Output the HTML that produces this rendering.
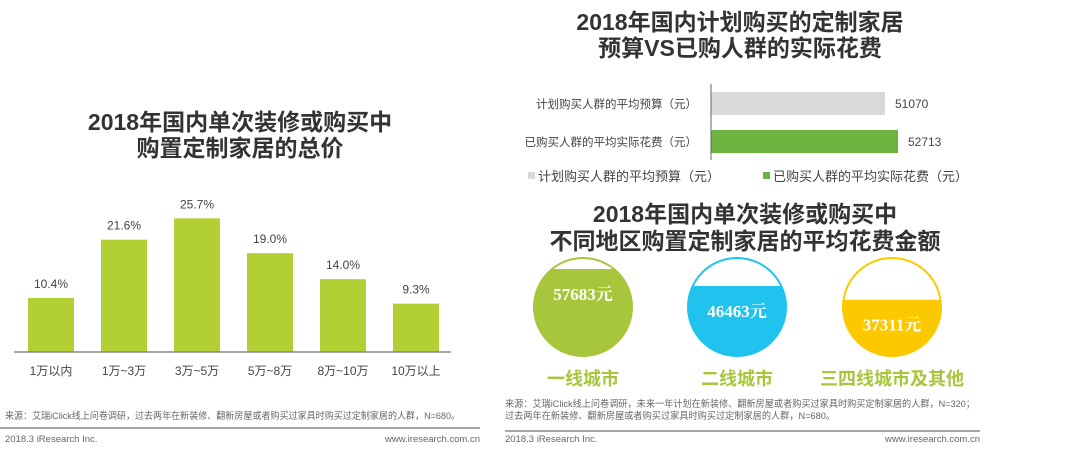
<!DOCTYPE html>
<html><head><meta charset="utf-8"><style>
body{margin:0;background:#fff;width:1080px;height:451px;overflow:hidden;font-family:"Liberation Sans","Noto Sans CJK SC",sans-serif;}
svg{display:block}
.t{font-family:"Liberation Sans","Noto Sans CJK SC",sans-serif;font-weight:bold;fill:#333;font-size:23px;text-anchor:middle}
.s{font-size:9.5px;fill:#666}
</style></head><body>
<svg id="svg" width="1080" height="451" xmlns="http://www.w3.org/2000/svg">
<text class="t" x="240" y="130">2018年国内单次装修或购买中</text>
<text class="t" x="240" y="156">购置定制家居的总价</text>
<text class="t" x="740" y="30">2018年国内计划购买的定制家居</text>
<text class="t" x="740" y="56">预算VS已购人群的实际花费</text>
<text class="t" x="745" y="222">2018年国内单次装修或购买中</text>
<text class="t" x="745" y="249">不同地区购置定制家居的平均花费金额</text>
<g id="left"></g><g id="right"></g><g id="circles"></g>
<text class="s" x="5" y="419" textLength="455" lengthAdjust="spacingAndGlyphs">来源：艾瑞iClick线上问卷调研，过去两年在新装修、翻新房屋或者购买过家具时购买过定制家居的人群，N=680。</text>
<line x1="0" y1="428" x2="480" y2="428" stroke="#888" stroke-width="1.5"/>
<text class="s" x="5" y="442">2018.3 iResearch Inc.</text>
<text class="s" x="480" y="442" text-anchor="end">www.iresearch.com.cn</text>
<text class="s" x="505" y="407" textLength="470" lengthAdjust="spacingAndGlyphs">来源：艾瑞iClick线上问卷调研，未来一年计划在新装修、翻新房屋或者购买过家具时购买定制家居的人群，N=320；</text>
<text class="s" x="505" y="419" textLength="330" lengthAdjust="spacingAndGlyphs">过去两年在新装修、翻新房屋或者购买过家具时购买过定制家居的人群，N=680。</text>
<line x1="505" y1="431" x2="980" y2="431" stroke="#888" stroke-width="1.5"/>
<text class="s" x="505" y="442">2018.3 iResearch Inc.</text>
<text class="s" x="980" y="442" text-anchor="end">www.iresearch.com.cn</text>
</svg>
<script>
const NS="http://www.w3.org/2000/svg";
const priceCats=["1万以内","1万~3万","3万~5万","5万~8万","8万~10万","10万以上"];
const priceVals=[10.4,21.6,25.7,19.0,14.0,9.3];
const budgetCats=["计划购买人群的平均预算（元）","已购买人群的平均实际花费（元）"];
const budgetVals=[51070,52713];
const regionCats=["一线城市","二线城市","三四线城市及其他"];
const regionVals=[57683,46463,37311];
function mk(p,tag,a,txt){const e=document.createElementNS(NS,tag);for(const k in a)e.setAttribute(k,a[k]);if(txt!=null)e.textContent=txt;p.appendChild(e);return e;}
const L=document.getElementById('left');
const base=352,ky=5.2,x0=28,step=73,bw=46;
const yL=v=>base-v*ky;
priceVals.forEach((v,i)=>{
 const x=x0+i*step;
 const r=mk(L,'rect',{x:x,y:yL(v),width:bw,height:base-yL(v),fill:'#b2cf33'});
 
 
 const t=mk(L,'text',{x:x+bw/2,y:yL(v)-10,'text-anchor':'middle','font-size':'12',fill:'#444'},v.toFixed(1)+'%');
 
 
 const c=mk(L,'text',{x:x+bw/2,y:375,'text-anchor':'middle','font-size':'12',fill:'#444'},priceCats[i]);
 
 
});
const ax=mk(L,'line',{x1:14,y1:base,x2:451,y2:base,stroke:'#888','stroke-width':1.5});


const R=document.getElementById('right');
const ax0=711,dmin=29073,kx=0.00791;
const xR=v=>ax0+(v-dmin)*kx;
const cols=['#d9d9d9','#6db33f'];
budgetVals.forEach((v,i)=>{
 const y=92+i*38;
 const r=mk(R,'rect',{x:ax0,y:y,width:xR(v)-ax0,height:23,fill:cols[i]});
 
 
 const t=mk(R,'text',{x:xR(v)+10,y:y+16,'font-size':'12',fill:'#444'},String(v));
 
 
 const c=mk(R,'text',{x:ax0-14,y:y+16,'text-anchor':'end','font-size':'11.5',fill:'#444'},budgetCats[i]);
 
 
 const lx=[528,763][i];
 const ls=mk(R,'rect',{x:lx,y:172,width:7,height:7,fill:cols[i]});
 
 
 const lt=mk(R,'text',{x:lx+10,y:181,'font-size':'13',fill:'#444'},budgetCats[i]);
 
 
});
const ay=mk(R,'line',{x1:ax0,y1:84,x2:ax0,y2:160,stroke:'#666','stroke-width':1});


const C=document.getElementById('circles');
const ccols=['#a8c63c','#1fc3ee','#fcc800'];
const cx=[583,737,892],cy=307,rad=49;
const fillTop=v=>cy+rad-(v/65000)*(2*rad);
const defs=mk(C,'defs',{});
regionVals.forEach((v,i)=>{
 const cp=mk(defs,'clipPath',{id:'cp'+i});
 mk(cp,'circle',{cx:cx[i],cy:cy,r:rad});
 const ft=fillTop(v);
 const f=mk(C,'rect',{x:cx[i]-rad,y:ft,width:2*rad,height:cy+rad-ft,fill:ccols[i],'clip-path':'url(#cp'+i+')'});
 
 
 const o=mk(C,'circle',{cx:cx[i],cy:cy,r:rad,fill:'none',stroke:ccols[i],'stroke-width':2});
 
 
 const t=mk(C,'text',{x:cx[i],y:ft+31,'text-anchor':'middle','font-size':'17','font-weight':'bold',fill:'#fff','font-family':'"Liberation Serif","Noto Serif CJK SC",serif'},v+'元');
 
 
 const l=mk(C,'text',{x:cx[i],y:385,'text-anchor':'middle','font-size':'18','font-weight':'bold',fill:'#a8c63c'},regionCats[i]);
 
 
});
</script>
</body></html>
